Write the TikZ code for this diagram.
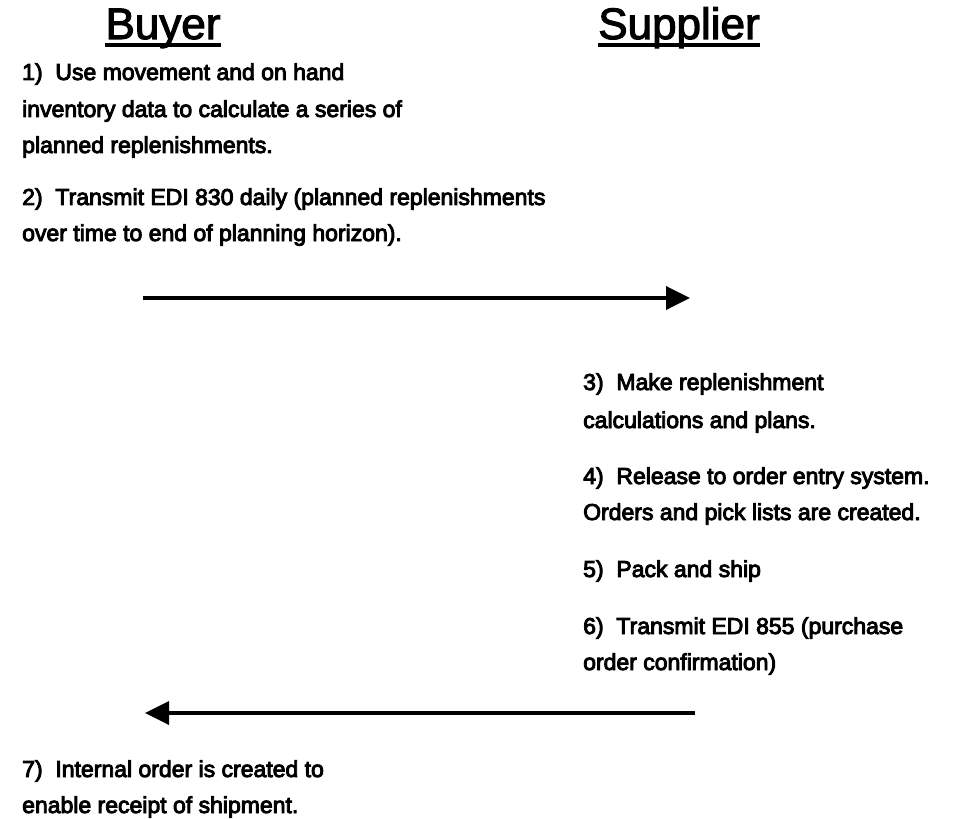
\documentclass[tikz,border=0pt]{standalone}
\usepackage{fontspec}
\setmainfont{Liberation Sans}
\newfontfamily\stepfont{Liberation Sans}[FakeBold=4]
\newfontfamily\headfont{Liberation Sans}[FakeBold=2.5]
\usetikzlibrary{arrows.meta}
\begin{document}
\begin{tikzpicture}[x=1pt,y=-1pt,
  body/.style={anchor=base west, inner sep=0pt, font=\stepfont\fontsize{23}{27}\selectfont},
  head/.style={anchor=base, inner sep=0pt, font=\headfont\fontsize{44}{50}\selectfont},
  headline/.style={line width=3.2pt},
  msg/.style={line width=3.6pt, -{Triangle[length=24pt,width=23pt]}}]
  \useasboundingbox (0,0) rectangle (973,818);

  % column headings
  \node[head] (hb) at (163,39) {Buyer};
  \node[head] (hs) at (679,39) {Supplier};
  \draw[headline] ([yshift=-6pt]hb.base west) -- ([yshift=-6pt]hb.base east);
  \draw[headline] ([yshift=-6pt]hs.base west) -- ([yshift=-6pt]hs.base east);

  % buyer steps
  \node[body] (b1a) at (22,80)  {1)\ \ Use movement and on hand};
  \node[body] (b1b) at (22,117) {inventory data to calculate a series of};
  \node[body] (b1c) at (22,153) {planned replenishments.};
  \node[body] (b2a) at (22,205) {2)\ \ Transmit EDI 830 daily (planned replenishments};
  \node[body] (b2b) at (22,241) {over time to end of planning horizon).};

  % supplier steps
  \node[body] (s3a) at (583,390) {3)\ \ Make replenishment};
  \node[body] (s3b) at (583,428) {calculations and plans.};
  \node[body] (s4a) at (583,484) {4)\ \ Release to order entry system.};
  \node[body] (s4b) at (583,520) {Orders and pick lists are created.};
  \node[body] (s5)  at (583,577) {5)\ \ Pack and ship};
  \node[body] (s6a) at (583,634) {6)\ \ Transmit EDI 855 (purchase};
  \node[body] (s6b) at (583,670) {order confirmation)};

  % buyer receipt
  \node[body] (b7a) at (22,777) {7)\ \ Internal order is created to};
  \node[body] (b7b) at (22,813) {enable receipt of shipment.};

  % EDI transmissions
  \coordinate (e830from) at (143,298);
  \coordinate (e830to)   at (690,298);
  \coordinate (e855from) at (695,713);
  \coordinate (e855to)   at (145,713);
  \draw[msg] (e830from) -- (e830to);
  \draw[msg] (e855from) -- (e855to);
\end{tikzpicture}
\end{document}
